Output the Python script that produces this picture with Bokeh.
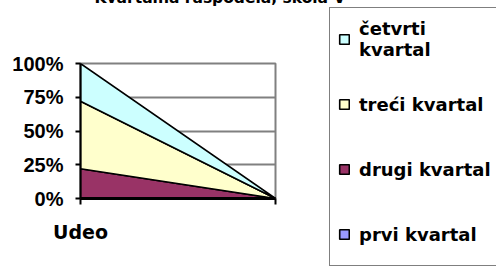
import numpy as np
from bokeh.plotting import figure
from bokeh.models import Legend, LegendItem, Title, Range1d
from bokeh.embed import file_html
from bokeh.resources import INLINE

# ---- data ----
categories = ["Udeo", ""]
series_names = ["prvi kvartal", "drugi kvartal", "treći kvartal", "četvrti\nkvartal"]
prvi = [0, 0]
drugi = [22, 0]
treci = [50, 0]
cetvrti = [28, 0]
y_ticks = [0, 25, 50, 75, 100]
y_tick_labels = ["0%", "25%", "50%", "75%", "100%"]
colors = ["#9999FF", "#993366", "#FFFFCC", "#CCFFFF"]
title_text = "Kvartalna raspodela, škola V"

# 100% stacking
vals = np.array([prvi, drugi, treci, cetvrti], dtype=float)
tot = vals.sum(axis=0)
pct = np.where(tot > 0, vals / np.where(tot > 0, tot, 1) * 100.0, 0.0)
cum = np.cumsum(pct, axis=0)
xs_cat = np.arange(len(categories))

# screen layout of the frame (window pixels)
SL, SR, ST, SB = 80, 275, 63, 198
TOP_BORDER = 150
OX, OY = 8, TOP_BORDER - ST

p = figure(output_backend="svg", toolbar_location=None,
           frame_width=SR - SL, frame_height=SB - ST,
           x_range=Range1d(0, len(categories) - 1), y_range=Range1d(0, 100),
           min_border_left=SL + OX, min_border_right=496 - SR,
           min_border_top=TOP_BORDER, min_border_bottom=265 - SB,
           background_fill_color="white", border_fill_color="white",
           styles={"margin-left": "-%dpx" % OX, "margin-top": "-%dpx" % OY})

p.outline_line_color = "#808080"
p.outline_line_width = 2
p.xgrid.visible = False
p.ygrid.ticker = y_ticks
p.ygrid.grid_line_color = "#808080"
p.ygrid.grid_line_width = 2

renderers = []
for i in range(len(series_names)):
    lower = cum[i - 1] if i > 0 else np.zeros(len(categories))
    upper = cum[i]
    x = list(xs_cat) + list(xs_cat[::-1])
    y = list(upper) + list(lower[::-1])
    r = p.patch(x, y, fill_color=colors[i], line_color="black", line_width=1.6)
    renderers.append(r)

# axes
p.yaxis.ticker = y_ticks
p.yaxis.major_label_overrides = {t: l for t, l in zip(y_ticks, y_tick_labels)}
p.yaxis.axis_line_width = 2
p.yaxis.major_tick_line_width = 2
p.yaxis.major_tick_out = 5
p.yaxis.major_tick_in = 0
p.yaxis.minor_tick_line_color = None
p.yaxis.major_label_standoff = 12
p.yaxis.major_label_text_font = "Liberation Sans"
p.yaxis.major_label_text_font_style = "bold"
p.yaxis.major_label_text_font_size = "20px"
p.yaxis.major_label_text_color = "black"

p.xaxis.ticker = list(xs_cat)
p.xaxis.major_label_overrides = {int(i): c for i, c in zip(xs_cat, categories)}
p.xaxis.axis_line_width = 3
p.xaxis.major_tick_line_width = 2
p.xaxis.major_tick_out = 6
p.xaxis.major_tick_in = 0
p.xaxis.minor_tick_line_color = None
p.xaxis.major_label_standoff = 16
p.xaxis.major_label_text_font = "DejaVu Sans"
p.xaxis.major_label_text_font_style = "bold"
p.xaxis.major_label_text_font_size = "19px"
p.xaxis.major_label_text_color = "black"

# title (partly cut off at top, as in the reference)
p.title = Title(text=title_text, align="left", offset=14, vertical_align="bottom",
                standoff=114, text_font="DejaVu Sans", text_font_style="bold",
                text_font_size="15.5px", text_color="black")

items = [LegendItem(label=series_names[i], renderers=[renderers[i]])
         for i in range(len(series_names) - 1, -1, -1)]
legend = Legend(items=items, location=(329 - SR, -68), orientation="vertical",
                border_line_color="black", border_line_width=1,
                background_fill_color="white", background_fill_alpha=1,
                padding=8, spacing=19, margin=0, label_height=46,
                glyph_width=12, glyph_height=12, label_standoff=9,
                label_text_font="DejaVu Sans", label_text_font_style="bold",
                label_text_font_size="18px", label_text_color="black")
p.add_layout(legend, "right")

open("out.html", "w").write(file_html(p, INLINE))
